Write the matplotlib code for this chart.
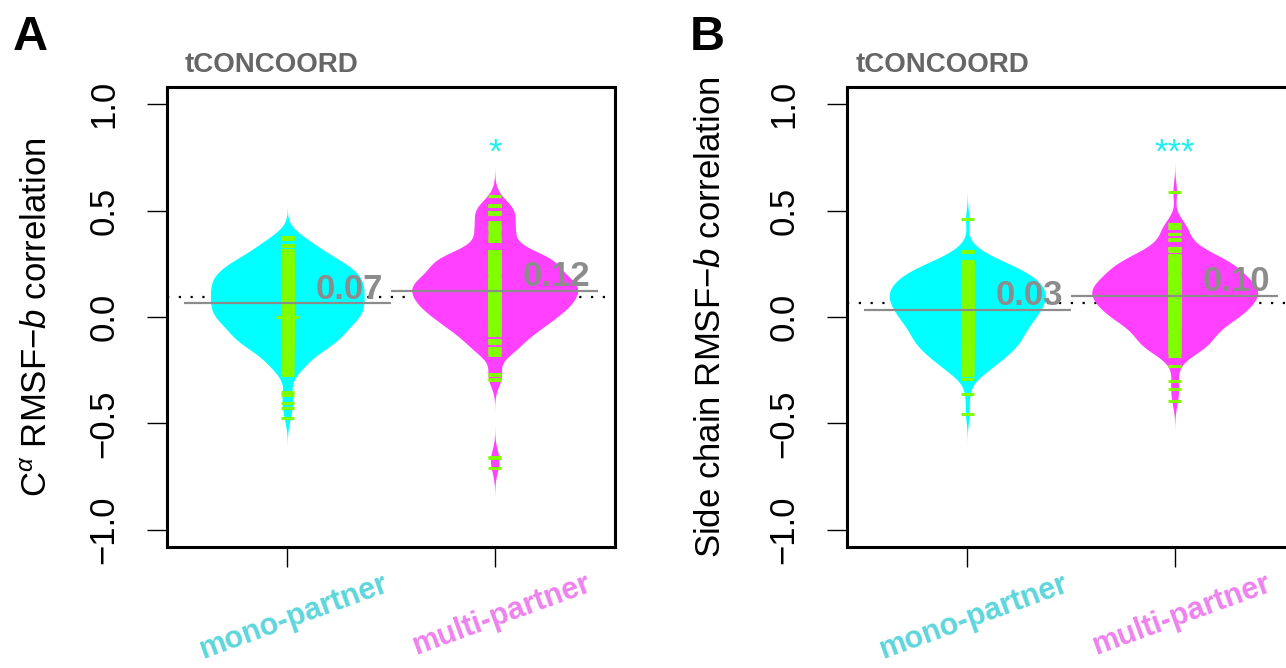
import numpy as np
import matplotlib
matplotlib.use('Agg')
import matplotlib.pyplot as plt
from matplotlib.transforms import ScaledTranslation

plt.rcParams['font.family'] = ['Liberation Sans', 'DejaVu Sans']
plt.rcParams['mathtext.fontset'] = 'custom'
plt.rcParams['mathtext.rm'] = 'Liberation Sans'
plt.rcParams['mathtext.it'] = 'Liberation Sans:italic'
plt.rcParams['mathtext.bf'] = 'Liberation Sans:bold'

# ---------------- data ----------------
groups = ['mono-partner', 'multi-partner']
panel_letters = ['A', 'B']
panel_titles = ['tCONCOORD', 'tCONCOORD']
ylabels = ['C$^{\\alpha}$ RMSF\u2212$\\mathit{b}$ correlation',
           'Side chain RMSF\u2212$\\mathit{b}$ correlation']
mean_labels = [['0.07', '0.12'], ['0.03', '0.10']]
signif = [['', '*'], ['', '***']]
yticks = [-1.0, -0.5, 0.0, 0.5, 1.0]
ytick_labels = ['\u22121.0', '\u22120.5', '0.0', '0.5', '1.0']

mono_A = [0.368, 0.370, 0.372, 0.374, 0.376,
          0.332, 0.334, 0.336, 0.338, 0.340, 0.313, 0.310, 0.307, 0.304, 0.301,
          0.298, 0.292, 0.289, 0.283, 0.280, 0.273, 0.270, 0.267, 0.264,
          0.261, 0.258, 0.255, 0.252,
          0.249, 0.247, 0.244, 0.242, 0.239, 0.237, 0.234, 0.232, 0.229, 0.227, 0.224, 0.222,
          0.219, 0.217, 0.214, 0.212, 0.209, 0.207, 0.204, 0.202,
          0.199, 0.197, 0.194, 0.192, 0.190, 0.188, 0.185, 0.183, 0.181, 0.179, 0.176, 0.174,
          0.172, 0.170, 0.167, 0.165, 0.163, 0.161, 0.158, 0.156, 0.154, 0.152,
          0.149, 0.147, 0.145, 0.143, 0.140, 0.138, 0.136, 0.134, 0.131, 0.129, 0.127, 0.125,
          0.122, 0.120, 0.118, 0.116, 0.113, 0.111, 0.109, 0.107, 0.104, 0.102,
          0.099, 0.097, 0.095, 0.093, 0.090, 0.088, 0.086, 0.084, 0.081, 0.079, 0.077, 0.075,
          0.072, 0.070, 0.068, 0.066, 0.063, 0.061, 0.059, 0.057, 0.054, 0.052,
          0.049, 0.047, 0.045, 0.043, 0.040, 0.038, 0.036, 0.034, 0.031, 0.029, 0.027, 0.025,
          0.022, 0.020, 0.018, 0.016, 0.013, 0.011, 0.009, 0.007, 0.004, 0.002,
          0.000, 0.000, -0.003, -0.006, -0.009, -0.012, -0.015, -0.017, -0.019, -0.021,
          -0.024, -0.026, -0.028, -0.031, -0.033, -0.035, -0.038, -0.041, -0.044, -0.047,
          -0.052, -0.056,
          -0.059, -0.062, -0.065, -0.068, -0.071, -0.074, -0.077, -0.080, -0.083, -0.086,
          -0.089, -0.092, -0.095, -0.098, -0.101, -0.104,
          -0.107, -0.110, -0.113, -0.116, -0.119, -0.121, -0.125, -0.129,
          -0.133, -0.137, -0.141, -0.145, -0.149,
          -0.155, -0.161, -0.167, -0.173, -0.179, -0.183, -0.195, -0.199,
          -0.212, -0.219, -0.227, -0.234, -0.250, -0.257, -0.273,
          -0.351, -0.367, -0.406, -0.429, -0.476]

multi_A = [0.570, 0.519, 0.521, 0.523, 0.525,
           0.484, 0.486, 0.488, 0.490, 0.492, 0.494,
           0.445, 0.436, 0.427, 0.423, 0.418, 0.414,
           0.405, 0.392, 0.380, 0.374, 0.368, 0.362,
           0.356, 0.310, 0.308, 0.306, 0.304, 0.302, 0.300,
           0.298, 0.295, 0.292, 0.289, 0.287, 0.284, 0.281, 0.278, 0.275, 0.273, 0.270, 0.267,
           0.264, 0.261, 0.259, 0.256, 0.253, 0.250,
           0.247, 0.245, 0.242, 0.239, 0.236, 0.234, 0.231, 0.228, 0.225, 0.223, 0.220, 0.217,
           0.214, 0.212, 0.209, 0.206, 0.204, 0.201,
           0.188, 0.186, 0.184, 0.182, 0.181, 0.179, 0.177, 0.175, 0.173, 0.172, 0.170, 0.168,
           0.166, 0.164, 0.163, 0.161, 0.159, 0.157, 0.155, 0.154, 0.152, 0.150,
           0.148, 0.146, 0.143, 0.141, 0.139, 0.137, 0.134, 0.132, 0.130, 0.128, 0.125, 0.123,
           0.121, 0.119, 0.116, 0.114, 0.112, 0.110, 0.107, 0.105, 0.103, 0.101,
           0.099, 0.097, 0.094, 0.092, 0.090, 0.088, 0.085, 0.083, 0.081, 0.079, 0.076, 0.074,
           0.072, 0.070, 0.067, 0.065, 0.063, 0.061, 0.058, 0.056, 0.054, 0.052,
           0.049, 0.046, 0.044, 0.041, 0.039, 0.036, 0.034, 0.031, 0.029, 0.026, 0.024, 0.021,
           0.019, 0.016, 0.014, 0.011, 0.009, 0.006, 0.003,
           -0.001, -0.004, -0.008, -0.011, -0.014, -0.018, -0.021, -0.024, -0.028, -0.031,
           -0.034, -0.038, -0.041, -0.044, -0.048,
           -0.052, -0.055, -0.059, -0.063, -0.067, -0.071, -0.075, -0.079, -0.083, -0.086,
           -0.107, -0.109, -0.111, -0.118, -0.120, -0.122, -0.146, -0.148,
           -0.152, -0.158, -0.164, -0.170, -0.178,
           -0.266, -0.270, -0.291, -0.295,
           -0.659, -0.662, -0.711]

mono_B = [0.458, 0.310, 0.308, 0.306, 0.304,
          0.264, 0.261, 0.258, 0.255, 0.252, 0.250,
          0.248, 0.244, 0.239, 0.237, 0.234, 0.226, 0.223, 0.221, 0.219, 0.217, 0.214, 0.212,
          0.204, 0.201, 0.199, 0.196, 0.194, 0.191, 0.189, 0.186, 0.184, 0.181,
          0.179, 0.176, 0.174, 0.171, 0.169, 0.166, 0.164, 0.161, 0.159, 0.156,
          0.152, 0.150, 0.148, 0.145, 0.143, 0.141, 0.139, 0.136, 0.134, 0.132, 0.130,
          0.127, 0.125, 0.123, 0.121, 0.118, 0.116, 0.114, 0.112, 0.109, 0.107, 0.105,
          0.101, 0.099, 0.097, 0.095, 0.092, 0.090, 0.088, 0.086, 0.083, 0.081, 0.079,
          0.077, 0.074, 0.072, 0.070, 0.068, 0.065, 0.063, 0.061, 0.059, 0.056, 0.054,
          0.050, 0.048, 0.045, 0.043, 0.040, 0.038, 0.035, 0.033, 0.030, 0.028,
          0.025, 0.023, 0.020, 0.018, 0.015, 0.013, 0.010, 0.008, 0.005, 0.003,
          -0.001, -0.004, -0.007, -0.009, -0.012, -0.015, -0.018, -0.020, -0.023,
          -0.026, -0.029, -0.031, -0.034, -0.037, -0.040, -0.042, -0.045, -0.048,
          -0.051, -0.055, -0.058, -0.062, -0.065, -0.069, -0.072, -0.076, -0.079,
          -0.083, -0.086, -0.090, -0.093, -0.097,
          -0.100, -0.104, -0.108, -0.110, -0.112, -0.116, -0.118, -0.120, -0.124, -0.128,
          -0.132, -0.134, -0.137, -0.141, -0.146,
          -0.150, -0.156, -0.161, -0.164, -0.167, -0.172, -0.178, -0.183, -0.186, -0.189, -0.194,
          -0.198, -0.203, -0.210, -0.217, -0.224, -0.231, -0.238, -0.245,
          -0.255, -0.262, -0.270, -0.289,
          -0.362, -0.454]

multi_B = [0.589,
           0.437, 0.435, 0.422, 0.420, 0.392, 0.389, 0.364, 0.361,
           0.326, 0.323, 0.320, 0.317, 0.314, 0.311,
           0.290, 0.287, 0.285, 0.283, 0.281, 0.279, 0.268, 0.265, 0.262, 0.259, 0.256, 0.253,
           0.250, 0.247, 0.244, 0.241, 0.238, 0.235, 0.232, 0.229, 0.226, 0.223, 0.221, 0.219,
           0.217, 0.215, 0.213, 0.211,
           0.198, 0.196, 0.193, 0.191, 0.188, 0.186, 0.183, 0.181, 0.178, 0.176,
           0.173, 0.171, 0.168, 0.166, 0.163, 0.161, 0.158, 0.156, 0.153, 0.151,
           0.148, 0.146, 0.144, 0.141, 0.139, 0.137, 0.135, 0.132, 0.130, 0.128, 0.126,
           0.123, 0.121, 0.119, 0.117, 0.114, 0.112, 0.110, 0.108, 0.105, 0.103, 0.101,
           0.099, 0.096, 0.094, 0.091, 0.089, 0.086, 0.084, 0.081, 0.079, 0.076,
           0.074, 0.071, 0.069, 0.066, 0.064, 0.061, 0.059, 0.056, 0.054, 0.051,
           0.049, 0.046, 0.043, 0.040, 0.038, 0.035, 0.032, 0.029, 0.027,
           0.024, 0.021, 0.018, 0.016, 0.013, 0.010, 0.007, 0.005, 0.002,
           -0.001, -0.005, -0.008, -0.012, -0.015, -0.019, -0.022, -0.026, -0.029, -0.033,
           -0.036, -0.040, -0.043, -0.047,
           -0.051, -0.057, -0.062, -0.068, -0.073, -0.079, -0.084, -0.090, -0.096,
           -0.101, -0.106, -0.112, -0.118, -0.123, -0.126, -0.130, -0.134, -0.139, -0.145,
           -0.154, -0.158, -0.165, -0.170, -0.185,
           -0.231, -0.300, -0.339, -0.393]

panels = [[mono_A, multi_A], [mono_B, multi_B]]

# ---------------- style ----------------
bean_colors = ['#00FFFF', '#FF40FF']
label_colors = ['#5DD6DB', '#EE82EE']
stripe_color = '#80FF00'
mean_color = '#8C8C8C'
star_color = '#22F0F0'
bw = 0.045
W, H = 1286, 668


def kde(vals, bw, cut=3.0, n=700):
    grid = np.linspace(vals.min() - cut * bw, vals.max() + cut * bw, n)
    d = np.exp(-0.5 * ((grid[:, None] - vals[None, :]) / bw) ** 2).sum(1)
    d /= (len(vals) * bw * np.sqrt(2 * np.pi))
    return grid, d


fig = plt.figure(figsize=(W / 100, H / 100), dpi=100)
fig.patch.set_facecolor('white')

ax_left_px = [167, 847]
ax_w_px = 448
ax_top_px, ax_bot_px = 87, 547

for p in range(2):
    ax = fig.add_axes([ax_left_px[p] / W, (H - ax_bot_px) / H, ax_w_px / W,
                       (ax_bot_px - ax_top_px) / H])
    ax.set_xlim(0.42, 2.58)
    ax.set_ylim(-1.08, 1.08)
    data = [np.array(v, dtype=float) for v in panels[p]]
    xs = np.arange(1, len(groups) + 1)

    # overall mean dotted line
    overall = np.concatenate(data).mean()
    ax.axhline(overall, color='black', lw=1.6, linestyle=(0, (1, 4.3)), zorder=1)

    kdes = [kde(d, bw) for d in data]
    dmax = max(k[1].max() for k in kdes)
    for i, (d, (g, dens)) in enumerate(zip(data, kdes)):
        hw = dens / dmax * 0.4
        ax.fill_betweenx(g, xs[i] - hw, xs[i] + hw, color=bean_colors[i],
                         lw=0, zorder=2)
        uvals, counts = np.unique(d, return_counts=True)
        ll = np.where(counts > 1, 0.056, 0.032)
        ax.hlines(uvals, xs[i] - ll, xs[i] + ll, color=stripe_color, lw=2.2,
                  zorder=3)
        m = d.mean()
        ax.hlines(m, xs[i] - 0.5, xs[i] + 0.5, color=mean_color, lw=1.6, zorder=4)
        ax.text(xs[i] + 0.46, m + 0.022, mean_labels[p][i], ha='right',
                va='baseline', fontsize=25, fontweight='bold', color=mean_color,
                zorder=5)
        if signif[p][i]:
            ax.text(xs[i], 0.77, signif[p][i], ha='center', va='center',
                    fontsize=25, color=star_color, zorder=5)

    for s in ax.spines.values():
        s.set_linewidth(2.2)
    ax.set_yticks(yticks)
    ax.set_yticklabels(ytick_labels, fontsize=25, rotation=90, va='center')
    ax.tick_params(axis='y', length=14.4, width=1.0, pad=19)
    ax.set_xticks(xs)
    ax.set_xticklabels(groups, fontsize=22, fontweight='bold', rotation=20,
                       ha='center', va='top')
    ax.tick_params(axis='x', length=14.4, width=1.0, pad=1)
    for lab, c in zip(ax.get_xticklabels(), label_colors):
        lab.set_color(c)
        lab.set_transform(lab.get_transform() +
                          ScaledTranslation(7 / 100, 0, fig.dpi_scale_trans))

    # panel letter, title, y-label
    off = ax_left_px[p] - 167
    fig.text((13 + off - (3 if p else 0)) / W, 1 - 50 / H, panel_letters[p],
             fontsize=35, fontweight='bold', ha='left', va='baseline')
    fig.text((185 + off + (-9 if p else 0)) / W, 1 - 72 / H, panel_titles[p],
             fontsize=20, fontweight='bold', color='#666666', ha='left',
             va='baseline')
    fig.text((47 + off - (7 if p else 0)) / W, 1 - 317 / H, ylabels[p],
             fontsize=25, rotation=90, ha='center', va='baseline',
             rotation_mode='anchor')

fig.savefig('out.png', dpi=100, facecolor='white')
